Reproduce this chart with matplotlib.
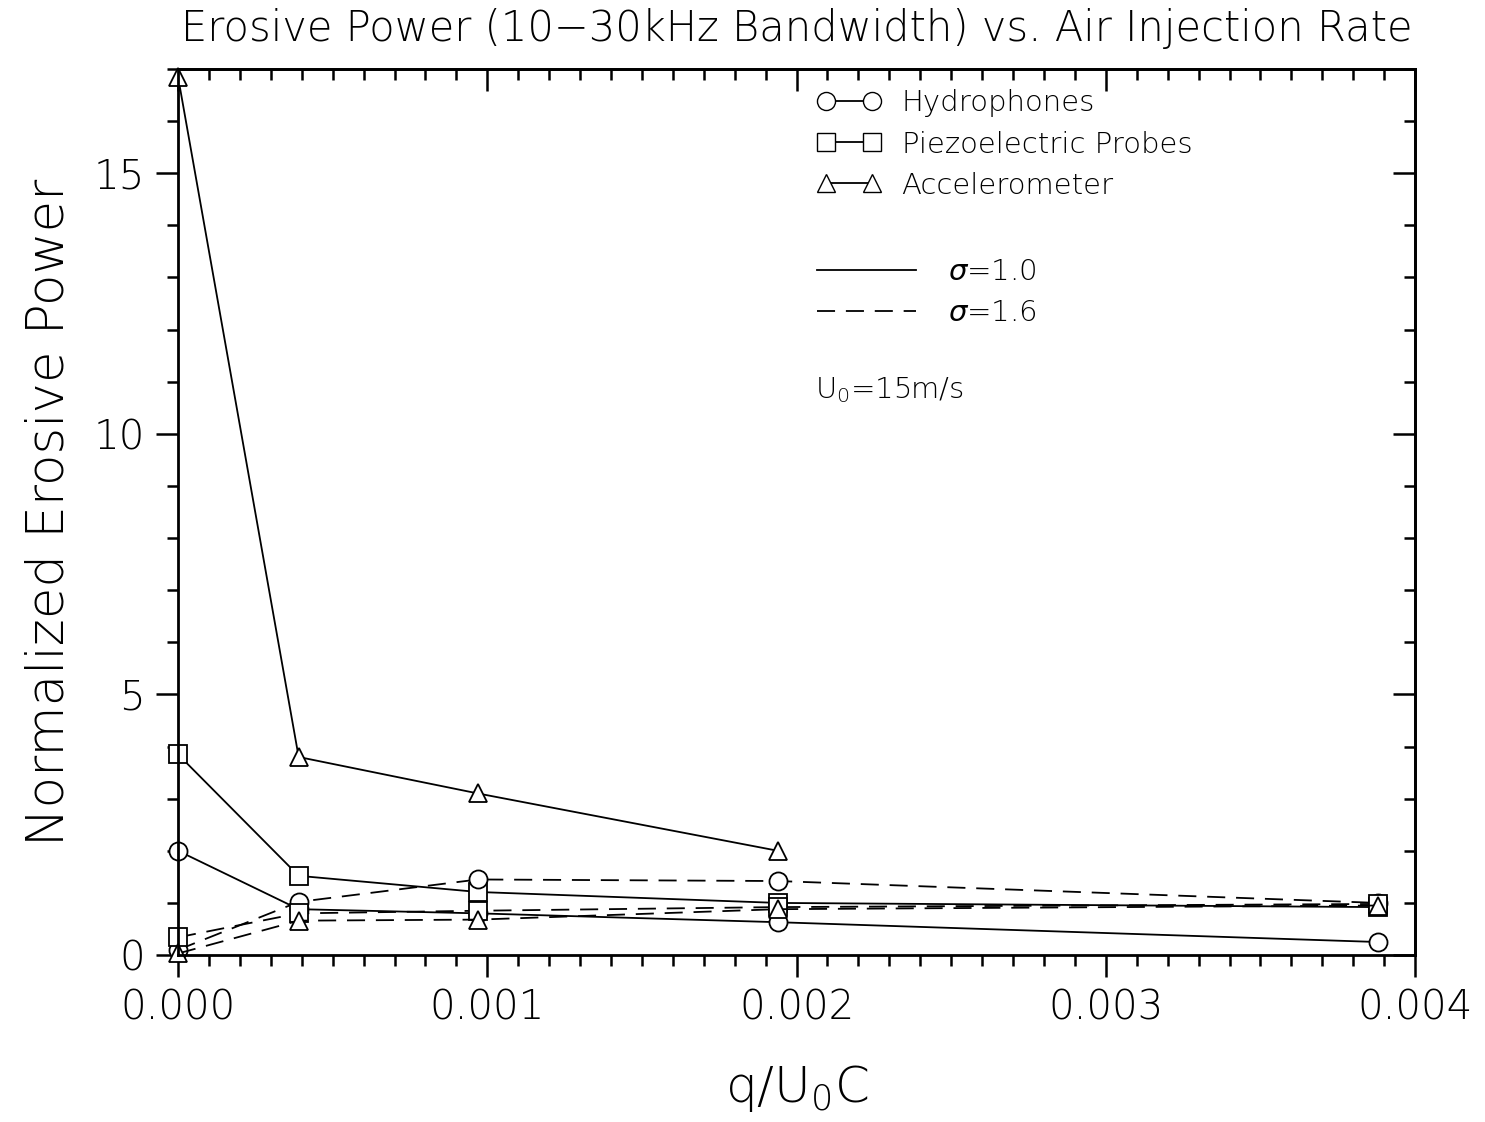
import numpy as np
import matplotlib
matplotlib.use('Agg')
import matplotlib.pyplot as plt
from matplotlib.lines import Line2D
from matplotlib.ticker import MultipleLocator

# air injection rate q/U0C
q_ratio = [0.0, 0.00039, 0.00097, 0.00194, 0.00388]

# sigma = 1.0 (solid)
hydro_s10 = [2.0, 0.88, 0.80, 0.63, 0.25]
piezo_s10 = [3.85, 1.52, 1.21, 1.0, 0.92]
accel_s10 = [16.85, 3.8, 3.1, 2.0]          # no point at the last rate

# sigma = 1.6 (dashed)
hydro_s16 = [0.1, 1.02, 1.45, 1.42, 1.0]
piezo_s16 = [0.34, 0.80, 0.85, 0.92, 0.98]
accel_s16 = [0.03, 0.66, 0.68, 0.88, 0.95]

plt.rcParams['font.family'] = ['DejaVu Sans']
plt.rcParams['font.weight'] = 'light'
plt.rcParams['axes.titleweight'] = 'light'
plt.rcParams['axes.labelweight'] = 'light'
fig = plt.figure(figsize=(14.85, 11.22), dpi=100)
ax = fig.add_axes([0.1199, 0.1488, 0.833, 0.7897])

mk = dict(color='black', lw=1.3, markersize=13, markerfacecolor='white',
          markeredgewidth=1.3, clip_on=False)
dash = (10, 6)

ax.plot(q_ratio, hydro_s10, marker='o', ls='-', **mk)
ax.plot(q_ratio, piezo_s10, marker='s', ls='-', **mk)
ax.plot(q_ratio[:len(accel_s10)], accel_s10, marker='^', ls='-', **mk)
ax.plot(q_ratio, hydro_s16, marker='o', ls='--', dashes=dash, **mk)
ax.plot(q_ratio, piezo_s16, marker='s', ls='--', dashes=dash, **mk)
ax.plot(q_ratio, accel_s16, marker='^', ls='--', dashes=dash, **mk)

ax.set_xlim(0, 0.004)
ax.set_ylim(0, 17)
ax.xaxis.set_major_locator(MultipleLocator(0.001))
ax.xaxis.set_minor_locator(MultipleLocator(0.0001))
ax.yaxis.set_major_locator(MultipleLocator(5))
ax.yaxis.set_minor_locator(MultipleLocator(1))
ax.xaxis.set_major_formatter(plt.FormatStrFormatter('%.3f'))
ax.tick_params(which='both', direction='out', width=1.8, labelsize=29, pad=8)
ax.tick_params(which='major', length=16)
ax.tick_params(which='minor', length=8)

# inward ticks on the top and right
top = ax.secondary_xaxis('top')
top.xaxis.set_major_locator(MultipleLocator(0.001))
top.xaxis.set_minor_locator(MultipleLocator(0.0001))
top.tick_params(which='both', direction='in', width=1.8, labeltop=False)
top.tick_params(which='major', length=16)
top.tick_params(which='minor', length=8)
right = ax.secondary_yaxis('right')
right.yaxis.set_major_locator(MultipleLocator(5))
right.yaxis.set_minor_locator(MultipleLocator(1))
right.tick_params(which='both', direction='in', width=1.8, labelright=False)
right.tick_params(which='major', length=16)
right.tick_params(which='minor', length=8)

for s in ax.spines.values():
    s.set_linewidth(2)
top.spines['top'].set_linewidth(2)
right.spines['right'].set_linewidth(2)

ax.set_title('Erosive Power (10\u221230kHz Bandwidth) vs. Air Injection Rate',
             fontsize=30, pad=20, fontweight='light')
ax.set_ylabel('Normalized Erosive Power', fontsize=37, labelpad=14,
              fontweight='light')
ax.set_xlabel('q/U$_0$C', fontsize=36, labelpad=26, fontweight='light')

# legends
sym = [Line2D([], [], color='black', lw=1.3, marker=m, markersize=13,
              markerfacecolor='white') for m in ['o', 's', '^']]
leg1 = ax.legend(sym, ['Hydrophones', 'Piezoelectric Probes', 'Accelerometer'],
                 loc='upper left', bbox_to_anchor=(0.5, 1.0), frameon=False,
                 numpoints=2, handlelength=2.2, fontsize=21, labelspacing=0.45,
                 handletextpad=0.7, borderaxespad=0.3)
ax.add_artist(leg1)
lines = [Line2D([], [], color='black', lw=1.3),
         Line2D([], [], color='black', lw=1.3, ls='--', dashes=dash)]
leg2 = ax.legend(lines, [r'$\sigma$=1.0', r'$\sigma$=1.6'],
                 loc='upper left', bbox_to_anchor=(0.5, 0.81), frameon=False,
                 handlelength=3.4, fontsize=21, labelspacing=0.45,
                 handletextpad=1.1, borderaxespad=0.3)
ax.text(0.515, 0.638, 'U$_0$=15m/s', transform=ax.transAxes, fontsize=21,
        va='center', ha='left')

fig.savefig('out.png', dpi=100)
